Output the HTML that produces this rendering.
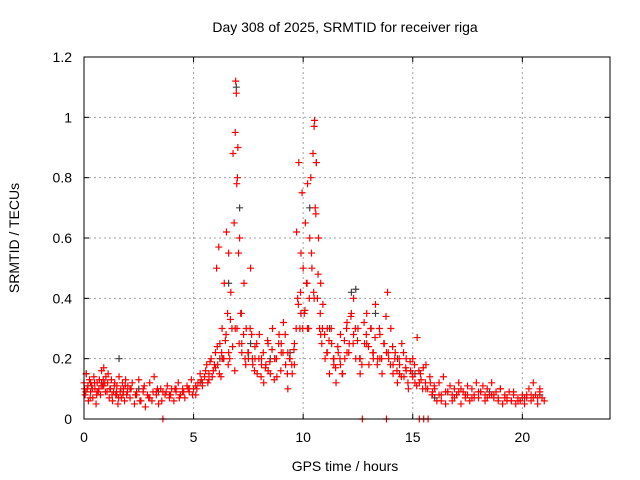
<!DOCTYPE html>
<html><head><meta charset="utf-8"><style>
body{margin:0;background:#fff;}
svg{display:block;font-family:"Liberation Sans",sans-serif;}
</style></head><body>
<svg id="chart" width="640" height="480" viewBox="0 0 640 480">
<text x="345" y="32" font-size="14" text-anchor="middle">Day 308 of 2025, SRMTID for receiver riga</text>
<text x="19" y="238" font-size="14" text-anchor="middle" transform="rotate(-90 19 238)">SRMTID / TECUs</text>
<text x="345" y="471" font-size="14" text-anchor="middle">GPS time / hours</text>
<g id="grid"></g><g id="ticks"></g><g id="gray"></g><g id="red"></g>
<rect x="84" y="57" width="526" height="362" fill="none" stroke="#000" stroke-width="1"/>
</svg>
<script>
const xTicks=[0,5,10,15,20];
const yTicks=[0,0.2,0.4,0.6,0.8,1,1.2];
const yTickLabels=["0","0.2","0.4","0.6","0.8","1","1.2"];
const redTimes=[0,0.05,0.1,0.15,0.2,0.25,0.3,0.35,0.4,0.45,0.5,0.55,0.6,0.65,0.7,0.75,0.8,0.85,0.9,0.95,1.0,1.05,1.1,1.15,1.2,1.25,1.3,1.35,1.4,1.45,1.5,1.55,1.6,1.65,1.7,1.75,1.8,1.85,1.9,1.95,2.0,2.1,2.2,2.3,2.4,2.5,2.6,2.7,2.8,2.9,3.0,3.1,3.2,3.3,3.4,3.5,3.6,3.7,3.8,3.9,4.0,4.1,4.2,4.3,4.4,4.5,4.6,4.7,4.8,4.9,5.0,5.1,5.2,5.3,5.4,5.5,5.6,5.7,5.8,5.9,6.0,6.05,6.1,6.15,6.2,6.25,6.3,6.35,6.4,6.45,6.5,6.55,6.6,6.65,6.7,6.75,6.8,6.85,6.9,6.92,6.95,6.97,7.0,7.02,7.05,7.1,7.15,7.2,7.3,7.35,7.4,7.5,7.6,7.65,7.7,7.8,7.9,8.0,8.1,8.2,8.3,8.4,8.5,8.6,8.7,8.8,8.9,9.0,9.1,9.2,9.3,9.4,9.5,9.6,9.7,9.75,9.8,9.85,9.9,9.95,10.0,10.05,10.1,10.15,10.2,10.25,10.3,10.35,10.4,10.45,10.5,10.52,10.55,10.6,10.65,10.7,10.75,10.8,10.85,10.9,11.0,11.1,11.2,11.3,11.4,11.5,11.6,11.7,11.8,11.9,12.0,12.1,12.2,12.3,12.4,12.5,12.6,12.7,12.8,12.9,13.0,13.1,13.2,13.3,13.4,13.5,13.6,13.7,13.8,13.85,13.9,14.0,14.1,14.2,14.3,14.4,14.5,14.6,14.7,14.8,14.9,15.0,15.1,15.2,15.3,15.35,15.45,15.5,15.6,15.7,15.8,15.9,16.0,16.1,16.2,16.3,16.4,16.5,16.6,16.7,16.8,16.9,17.0,17.1,17.2,17.3,17.4,17.5,17.6,17.7,17.8,17.9,18.0,18.1,18.2,18.3,18.4,18.5,18.6,18.7,18.8,18.9,19.0,19.1,19.2,19.3,19.4,19.5,19.6,19.7,19.8,19.9,20.0,20.1,20.2,20.3,20.4,20.5,20.6,20.7,20.8,20.9,21.0];
const redValues=[.12,.08,.15,.1,.06,.13,.09,.11,.07,.14,.1,.05,.12,.09,.13,.08,.16,.11,.17,.12,.14,.09,.15,.07,.1,.13,.06,.09,.12,.08,.11,.05,.14,.09,.07,.12,.1,.06,.13,.08,.11,.07,.12,.05,.09,.13,.06,.1,.04,.08,.12,.06,.14,.09,.05,.1,0,.08,.11,.07,.1,.06,.09,.12,.08,.1,.07,.11,.09,.13,.1,.08,.12,.15,.11,.14,.18,.13,.2,.16,.22,.5,.18,.57,.25,.14,.3,.2,.45,.26,.62,.35,.55,.2,.42,.3,.88,.65,.95,1.12,1.08,.78,.8,.9,.55,.6,.35,.25,.45,.2,.3,.22,.5,.28,.18,.24,.15,.28,.2,.12,.18,.25,.15,.3,.2,.14,.28,.22,.32,.18,.1,.2,.15,.25,.62,.4,.85,.3,.55,.75,.5,.35,.65,.45,.78,.3,.6,.8,.5,.88,.97,.99,.7,.85,.4,.6,.3,.45,.25,.38,.2,.3,.15,.25,.18,.12,.22,.28,.15,.2,.32,.25,.35,.4,.2,.3,.15,0,.25,.35,.18,.3,.22,.38,.2,.28,.15,.25,0,.42,.2,.3,.15,.22,.12,.18,.25,.14,.2,.1,.16,.2,.12,.27,0,.15,.1,0,.18,0,.12,.08,.1,.06,.12,.08,.14,.05,.09,.11,.06,.1,.08,.12,.05,.09,.07,.11,.06,.1,.08,.12,.07,.09,.11,.06,.1,.08,.12,.07,.09,.06,.1,.05,.08,.07,.09,.06,.08,.05,.07,.06,.08,.05,.07,.1,.06,.12,.08,.05,.1,.07,.06];
const red2Times=[0.02,0.3,0.6,0.9,1.2,1.5,1.8,2.1,2.4,2.7,3.0,3.3,3.6,3.9,4.2,4.5,4.8,5.1,5.4,5.7,6.0,6.3,6.6,6.9,7.2,7.5,7.8,8.1,8.4,8.7,9.0,9.3,9.6,9.9,10.2,10.5,10.8,11.1,11.4,11.7,12.0,12.3,12.6,12.9,13.2,13.5,13.8,14.1,14.4,14.7,15.0,15.3,15.6,15.9,16.2,16.5,16.8,17.1,17.4,17.7,18.0,18.3,18.6,18.9,19.2,19.5,19.8,20.1,20.4,20.7];
const red2Values=[.1,.12,.09,.11,.1,.08,.09,.1,.08,.09,.07,.08,.09,.08,.1,.09,.1,.11,.12,.15,.17,.2,.22,.3,.22,.2,.2,.18,.16,.2,.25,.22,.18,.35,.3,.4,.28,.22,.2,.18,.22,.28,.2,.25,.2,.2,.22,.18,.15,.16,.14,.12,.1,.09,.08,.09,.08,.09,.08,.07,.09,.08,.08,.07,.07,.06,.06,.07,.08,.07];
const red3Times=[0.08,0.18,0.28,0.38,0.48,0.58,0.68,0.78,0.88,0.98,1.08,1.18,1.28,1.38,1.48,1.58,1.68,1.78,1.88,1.98,2.15,2.35,2.55,2.75,2.95,3.15,3.35,3.55,3.75,3.95,4.15,4.35,4.55,4.75,4.95,5.15,5.35,5.55,5.65,5.75,5.85,5.95,6.08,6.18,6.28,6.38,6.48,6.58,6.68,6.78,6.88,6.98,7.08,7.18,7.28,7.38,7.48,7.58,7.68,7.78,7.88,7.98,8.08,8.18,8.28,8.38,8.48,8.58,8.68,8.78,8.88,8.98,9.08,9.18,9.28,9.38,9.48,9.58,9.68,9.78,9.88,9.98,10.08,10.18,10.28,10.38,10.48,10.58,10.68,10.78,10.88,10.98,11.08,11.18,11.28,11.38,11.48,11.58,11.68,11.78,11.88,11.98,12.08,12.18,12.28,12.38,12.48,12.58,12.68,12.78,12.88,12.98,13.08,13.18,13.28,13.38,13.48,13.58,13.68,13.78,13.88,13.98,14.08,14.18,14.28,14.38,14.48,14.58,14.68,14.78,14.88,14.98,15.08,15.18,15.28,15.38,15.48,15.58,15.68,15.78,15.88,15.98,16.3,16.6,16.9,17.2,17.5,17.8,18.1,18.4,18.7,19.0,19.3,19.6,19.9,20.2,20.5,20.8];
const red3Values=[.09,.11,.07,.1,.12,.08,.1,.11,.13,.09,.12,.1,.08,.11,.09,.07,.1,.08,.11,.09,.1,.08,.06,.11,.07,.09,.1,.06,.09,.08,.1,.07,.09,.1,.08,.1,.13,.16,.12,.19,.14,.18,.24,.15,.22,.2,.28,.18,.33,.24,.16,.3,.25,.35,.28,.18,.22,.3,.2,.16,.25,.2,.14,.22,.17,.26,.19,.23,.13,.2,.25,.16,.22,.28,.15,.2,.18,.23,.3,.38,.42,.3,.36,.45,.4,.55,.42,.68,.48,.35,.3,.28,.22,.26,.3,.2,.17,.24,.2,.15,.26,.3,.22,.34,.25,.3,.26,.2,.18,.32,.28,.24,.3,.22,.27,.18,.3,.2,.25,.34,.22,.18,.24,.2,.16,.2,.14,.22,.17,.12,.19,.15,.18,.11,.16,.13,.17,.12,.1,.14,.08,.11,.06,.09,.07,.1,.08,.07,.09,.07,.08,.1,.06,.09,.06,.08,.07,.09];
const grayTimes=[0.1,0.8,1.6,2.5,3.4,4.4,5.3,6.2,6.6,6.95,7.1,7.6,8.5,9.4,9.9,10.3,10.6,11.2,12.2,12.4,13.3,14.3,15.1,16.0,17.0,18.5,20.0,20.8];
const grayValues=[.15,.12,.2,.1,.09,.08,.12,.2,.45,1.1,.7,.25,.2,.22,.35,.7,.85,.3,.42,.43,.35,.2,.15,.07,.08,.09,.07,.08];
const X=t=>84+t*(526/24), Y=v=>419-v*(362/1.2);
const NS="http://www.w3.org/2000/svg";
const grid=document.getElementById('grid'),ticks=document.getElementById('ticks');
function mk(tag,attrs,parent){const e=document.createElementNS(NS,tag);for(const k in attrs)e.setAttribute(k,attrs[k]);parent.appendChild(e);return e;}
xTicks.forEach(t=>{
 if(t>0){const g=mk('line',{x1:X(t),x2:X(t),y1:57,y2:419,stroke:'#a0a0a0','stroke-dasharray':'2,3'},grid);
 
 }
 mk('line',{x1:X(t),x2:X(t),y1:419,y2:414,stroke:'#000'},ticks);
 mk('line',{x1:X(t),x2:X(t),y1:57,y2:62,stroke:'#000'},ticks);
 const l=mk('text',{x:X(t),y:442,'font-size':14,'text-anchor':'middle'},ticks);l.textContent=t;
 
 
});
yTicks.forEach((v,i)=>{
 if(v>0&&v<1.2){const g=mk('line',{x1:84,x2:610,y1:Y(v),y2:Y(v),stroke:'#a0a0a0','stroke-dasharray':'2,3'},grid);
 
 }
 mk('line',{x1:84,x2:89,y1:Y(v),y2:Y(v),stroke:'#000'},ticks);
 mk('line',{x1:605,x2:610,y1:Y(v),y2:Y(v),stroke:'#000'},ticks);
 const l=mk('text',{x:72,y:Y(v)+5,'font-size':14,'text-anchor':'end'},ticks);l.textContent=yTickLabels[i];
 
 
});
function plot(ts,vs,color,gid,name){
 const g=document.getElementById(gid);
 ts.forEach((t,i)=>{const x=X(t),y=Y(vs[i]);
  const p=mk('path',{d:`M${x-3.5} ${y}H${x+3.5}M${x} ${y-3.5}V${y+3.5}`,stroke:color,'stroke-width':1.2,fill:'none'},g);
  
  
 });
}
plot(grayTimes,grayValues,'#404040','gray','gray-point');
plot(redTimes,redValues,'#ff0000','red','red-point');
plot(red2Times,red2Values,'#ff0000','red','red-point');
plot(red3Times,red3Values,'#ff0000','red','red-point');
</script>
</body></html>
